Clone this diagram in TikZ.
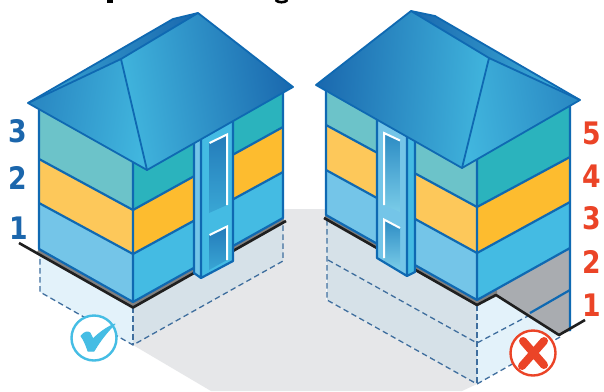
\documentclass[tikz,border=0pt]{standalone}
\usepackage{fontspec}
\setmainfont[FakeStretch=0.86]{DejaVu Sans}
\definecolor{ln}{HTML}{0F69B2}
\definecolor{gnd}{HTML}{E6E7E9}
\definecolor{panA}{HTML}{E3F2FA}
\definecolor{panB}{HTML}{D6E1E8}
\definecolor{dsh}{HTML}{3F6E9E}
\definecolor{tealL}{HTML}{6CC3C9}
\definecolor{tealR}{HTML}{2BB3BD}
\definecolor{yelL}{HTML}{FDC85A}
\definecolor{yelR}{HTML}{FDBC2F}
\definecolor{bluL}{HTML}{74C5E8}
\definecolor{bluR}{HTML}{44BBE3}
\definecolor{rfL}{HTML}{41B6DE}
\definecolor{rfD}{HTML}{1A68AE}
\definecolor{rfM}{HTML}{2C8DC6}
\definecolor{numB}{HTML}{1B66AC}
\definecolor{numR}{HTML}{EB4427}
\definecolor{okc}{HTML}{45BDE4}
\definecolor{slate}{HTML}{A9ACB0}
\tikzset{
 wline/.style={draw=ln,line width=2.2pt,line join=round},
 rline/.style={draw=ln,line width=1.8pt,line join=round},
 dline/.style={draw=dsh,line width=1.3pt,dash pattern=on 5.5pt off 3.5pt},
 gline/.style={draw=black!88,line width=2.6pt,line join=round},
 wwin/.style={draw=white,line width=2pt,line join=miter},
 glassA/.style={top color=rfD!75!rfL,bottom color=rfL!80!rfD},
 glassB/.style={top color=rfD!55!rfL,bottom color=rfL!70!white},
 numb/.style={font=\bfseries\fontsize{31}{31}\selectfont,text=numB,inner sep=0pt},
 numr/.style={font=\bfseries\fontsize{31}{31}\selectfont,text=numR,inner sep=0pt},
 mark ring/.style={fill=white,line width=2.4pt}
}
\begin{document}
\begin{tikzpicture}[x=1pt,y=-1pt]
\useasboundingbox (0,0) rectangle (604,391);
\fill[white] (0,0) rectangle (604,391);
% remnants of the cropped title at the top edge
\fill[black] (107,0) rectangle (113,3);
\draw[black,line width=2.6pt] (275.5,0) .. controls (278,3) and (285,3) .. (287.5,0);
% ground shadow
\fill[gnd] (133,345)--(285,209)--(326,209)--(326,300)--(477,384)--(462,391)--(211,391)--cycle;
% LEFT HOUSE
\fill[panA] (39,249)--(133,307)--(133,345)--(40,292)--cycle;
\fill[panB] (133,307)--(283,222)--(283,261)--(133,345)--cycle;
\draw[dline] (40,250)--(40,292)--(133,345)--(283,261)--(283,222);
\draw[dline] (133,307)--(133,345);
% walls
\fill[tealL] (39,105)--(133,160)--(133,210)--(39,159)--cycle;
\fill[yelL] (39,159)--(133,210)--(133,254)--(39,203)--cycle;
\fill[bluL] (39,203)--(133,254)--(133,302)--(39,249)--cycle;
\fill[tealR] (133,160)--(283,85)--(283,127)--(133,210)--cycle;
\fill[yelR] (133,210)--(283,127)--(283,172)--(133,254)--cycle;
\fill[bluR] (133,254)--(283,172)--(283,218)--(133,302)--cycle;
\fill[black!50] (39,249)--(133,302)--(283,218)--(285,222)--(133,307)--(37,252)--cycle;
\draw[wline] (39,159)--(133,210)--(283,127) (39,203)--(133,254)--(283,172);
\draw[wline] (39,108)--(39,249)--(133,302)--(283,218)--(283,90) (133,160)--(133,302);
\draw[gline] (19,243)--(133,307.5)--(286,221);
% pilaster
\fill[bluL] (194,135)--(201,130)--(201,278)--(194,273)--cycle;
\fill[bluR] (201,130)--(233,115)--(233,261)--(201,278)--cycle;
\shade[glassA] (209,143)--(227,134)--(227,205)--(209,213)--cycle;
\shade[glassA] (209,235)--(227,227)--(227,260)--(209,270)--cycle;
\draw[wwin] (209.5,143)--(227,134.5)--(227,205);
\draw[wwin] (209.5,235)--(227,226.5)--(227,260);
\draw[wline] (194,135)--(194,273)--(201,278)--(233,261)--(233,115) (201,130)--(201,278);
% roof
\shade[left color=rfL!80!rfD,right color=rfD] (28,103)--(173,19)--(198,13)--(121,59)--cycle;
\shade[left color=rfL,right color=rfD,shading angle=100] (121,59)--(198,13)--(293,87)--(147,170)--cycle;
\shade[right color=rfL,left color=rfM!80!rfD,shading angle=80] (28,103)--(121,59)--(147,170)--cycle;
\draw[rline] (28,103)--(173,19)--(198,13)--(293,87)--(147,170)--cycle;
\draw[rline] (28,103)--(121,59)--(198,13) (121,59)--(147,170);
% RIGHT HOUSE
\fill[panB] (326,218)--(477,305)--(477,384)--(327,300)--cycle;
\fill[panA] (477,305)--(496,295)--(559,335)--(477,384)--cycle;
\draw[dline] (327,220)--(327,300)--(477,384)--(560,337);
\draw[dline] (328,260)--(477,343)--(528,316);
\draw[dline] (477,305)--(477,384);
% walls
\fill[tealL] (326,92)--(477,150)--(477,207)--(326,125)--cycle;
\fill[yelL] (326,125)--(477,207)--(477,253)--(326,170)--cycle;
\fill[bluL] (326,170)--(477,253)--(477,300)--(326,215)--cycle;
\fill[tealR] (477,150)--(570,100)--(570,157)--(477,207)--cycle;
\fill[yelR] (477,207)--(570,157)--(570,202)--(477,253)--cycle;
\fill[bluR] (477,253)--(570,202)--(570,248)--(477,300)--cycle;
\fill[slate] (497,295)--(477,306)--(477,300)--(570,248)--(570,331)--(559,335)--cycle;
\fill[black!50] (326,215)--(477,300)--(497,290)--(497,295)--(477,305)--(324,218)--cycle;
\draw[wline] (326,125)--(477,207)--(570,157) (326,170)--(477,253)--(570,202);
\draw[wline] (326,90)--(326,215)--(477,300)--(570,248) (570,100)--(570,331) (477,150)--(477,300);
\draw[wline] (530,313)--(570,290);
\draw[gline] (324,218)--(477,305)--(496,295)--(559,335)--(585,320);
% pilaster
\fill[bluL] (377,112)--(407,130)--(407,276)--(377,258)--cycle;
\fill[bluR] (407,130)--(415,134)--(415,272)--(407,276)--cycle;
\shade[glassB] (384,133)--(400,140)--(400,212)--(384,205)--cycle;
\shade[glassB] (384,219)--(400,228)--(400,270)--(384,262)--cycle;
\draw[wwin] (400,140.5)--(384,133)--(384,205);
\draw[wwin] (400,228)--(384,219.5)--(384,258);
\draw[wline] (377,112)--(377,258)--(407,276)--(415,272)--(415,134) (407,130)--(407,276);
% roof
\shade[left color=rfD,right color=rfL] (411,11)--(435,16)--(580,100)--(489,58)--cycle;
\shade[left color=rfD,right color=rfL,shading angle=85] (316,85)--(411,11)--(489,58)--(462,168)--cycle;
\shade[left color=rfL,right color=rfM!85!rfD,shading angle=100] (489,58)--(580,100)--(462,168)--cycle;
\draw[rline] (316,85)--(411,11)--(435,16)--(580,100)--(462,168)--cycle;
\draw[rline] (411,11)--(489,58)--(580,100) (489,58)--(462,168);
% numbers
\node[numb] (a3) at (18,131) {3};
\node[numb] (a2) at (18,178) {2};
\node[numb] (a1) at (19,228) {1};
\node[numr] (b5) at (592,133) {5};
\node[numr] (b4) at (592,176) {4};
\node[numr] (b3) at (592,218) {3};
\node[numr] (b2) at (592,262) {2};
\node[numr] (b1) at (592,305) {1};
% marks
\draw[mark ring,draw=okc] (94,338) circle[radius=22.5];
\fill[okc,line join=round,draw=okc,line width=1pt] (81,336) .. controls (84,332) and (88,331) .. (90,333) -- (93,339) .. controls (99,333) and (107,327) .. (115,324) .. controls (106,333) and (100,341) .. (94,351) -- (88,351) .. controls (86,345) and (84,340) .. (81,336) -- cycle;
\draw[mark ring,draw=numR] (533,353) circle[radius=22.5];
\draw[numR,line width=8pt,line cap=round] (523,341)--(544,365) (544,341)--(522,366);
\end{tikzpicture}
\end{document}
